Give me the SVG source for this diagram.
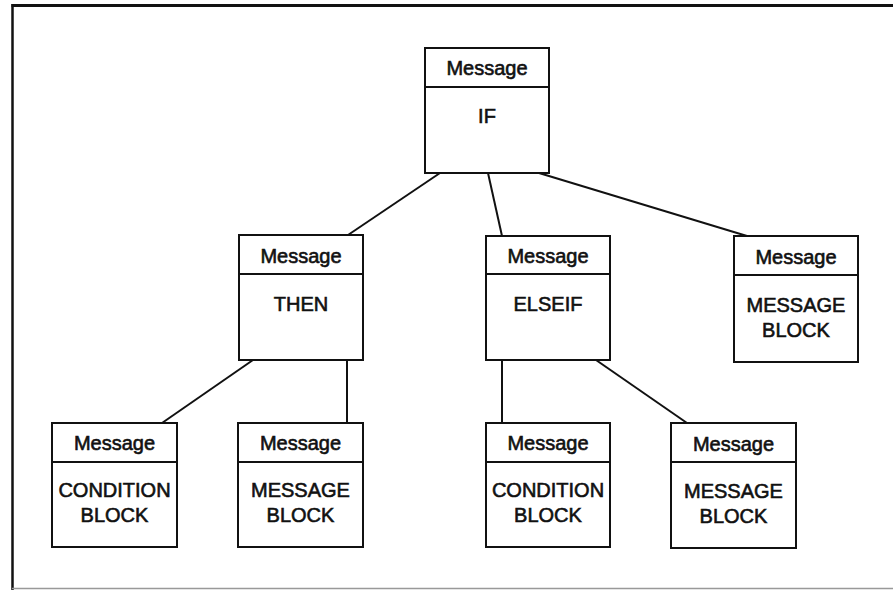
<svg xmlns="http://www.w3.org/2000/svg" width="893" height="590" viewBox="0 0 893 590">
  <style>
    .box { fill: #fff; stroke: #111; stroke-width: 2; }
    .rule { stroke: #111; stroke-width: 2; }
    .edge { stroke: #111; stroke-width: 2; fill: none; }
    text { font-family: "Liberation Sans", Arial, sans-serif; font-size: 20px; fill: #111; text-anchor: middle; stroke: #111; stroke-width: 0.6; }
  </style>
  <rect width="893" height="590" fill="#fff"/>
  <!-- frame -->
  <g id="frame">
    <line x1="11.5" y1="5.5" x2="893" y2="5.5" stroke="#111" stroke-width="3"/>
    <line x1="12.5" y1="4" x2="12.5" y2="590" stroke="#111" stroke-width="2.5"/>
    <line x1="12" y1="588.5" x2="893" y2="588.5" stroke="#999" stroke-width="1.5"/>
  </g>
  <!-- connectors -->
  <g id="connectors">
    <line class="edge" x1="440" y1="173" x2="348" y2="235"/>
    <line class="edge" x1="488" y1="173" x2="502" y2="236"/>
    <line class="edge" x1="539" y1="173" x2="747" y2="236"/>
    <line class="edge" x1="253" y1="360" x2="162" y2="423"/>
    <line class="edge" x1="347" y1="360" x2="347" y2="423"/>
    <line class="edge" x1="502" y1="360" x2="502" y2="423"/>
    <line class="edge" x1="596" y1="360" x2="687" y2="423"/>
  </g>
  <!-- nodes -->
  <g id="if">
    <rect class="box" x="425" y="48" width="124" height="125"/>
    <line class="rule" x1="425" y1="87" x2="549" y2="87"/>
    <text x="487" y="75">Message</text>
    <text x="487" y="123">IF</text>
  </g>
  <g id="then">
    <rect class="box" x="239" y="235" width="124" height="125"/>
    <line class="rule" x1="239" y1="274" x2="363" y2="274"/>
    <text x="301" y="263">Message</text>
    <text x="301" y="311">THEN</text>
  </g>
  <g id="elseif">
    <rect class="box" x="486" y="236" width="124" height="124"/>
    <line class="rule" x1="486" y1="274" x2="610" y2="274"/>
    <text x="548" y="263">Message</text>
    <text x="548" y="311">ELSEIF</text>
  </g>
  <g id="if-message-block">
    <rect class="box" x="734" y="236" width="124" height="126"/>
    <line class="rule" x1="734" y1="275" x2="858" y2="275"/>
    <text x="796" y="264">Message</text>
    <text x="796" y="312">MESSAGE</text>
    <text x="796" y="337">BLOCK</text>
  </g>
  <g id="then-condition-block">
    <rect class="box" x="52" y="423" width="125" height="124"/>
    <line class="rule" x1="52" y1="462" x2="177" y2="462"/>
    <text x="114.5" y="450">Message</text>
    <text x="114.5" y="497">CONDITION</text>
    <text x="114.5" y="522">BLOCK</text>
  </g>
  <g id="then-message-block">
    <rect class="box" x="238" y="423" width="125" height="124"/>
    <line class="rule" x1="238" y1="462" x2="363" y2="462"/>
    <text x="300.5" y="450">Message</text>
    <text x="300.5" y="497">MESSAGE</text>
    <text x="300.5" y="522">BLOCK</text>
  </g>
  <g id="elseif-condition-block">
    <rect class="box" x="486" y="423" width="124" height="124"/>
    <line class="rule" x1="486" y1="462" x2="610" y2="462"/>
    <text x="548" y="450">Message</text>
    <text x="548" y="497">CONDITION</text>
    <text x="548" y="522">BLOCK</text>
  </g>
  <g id="elseif-message-block">
    <rect class="box" x="671" y="423" width="125" height="125"/>
    <line class="rule" x1="671" y1="462" x2="796" y2="462"/>
    <text x="733.5" y="451">Message</text>
    <text x="733.5" y="498">MESSAGE</text>
    <text x="733.5" y="523">BLOCK</text>
  </g>
</svg>
